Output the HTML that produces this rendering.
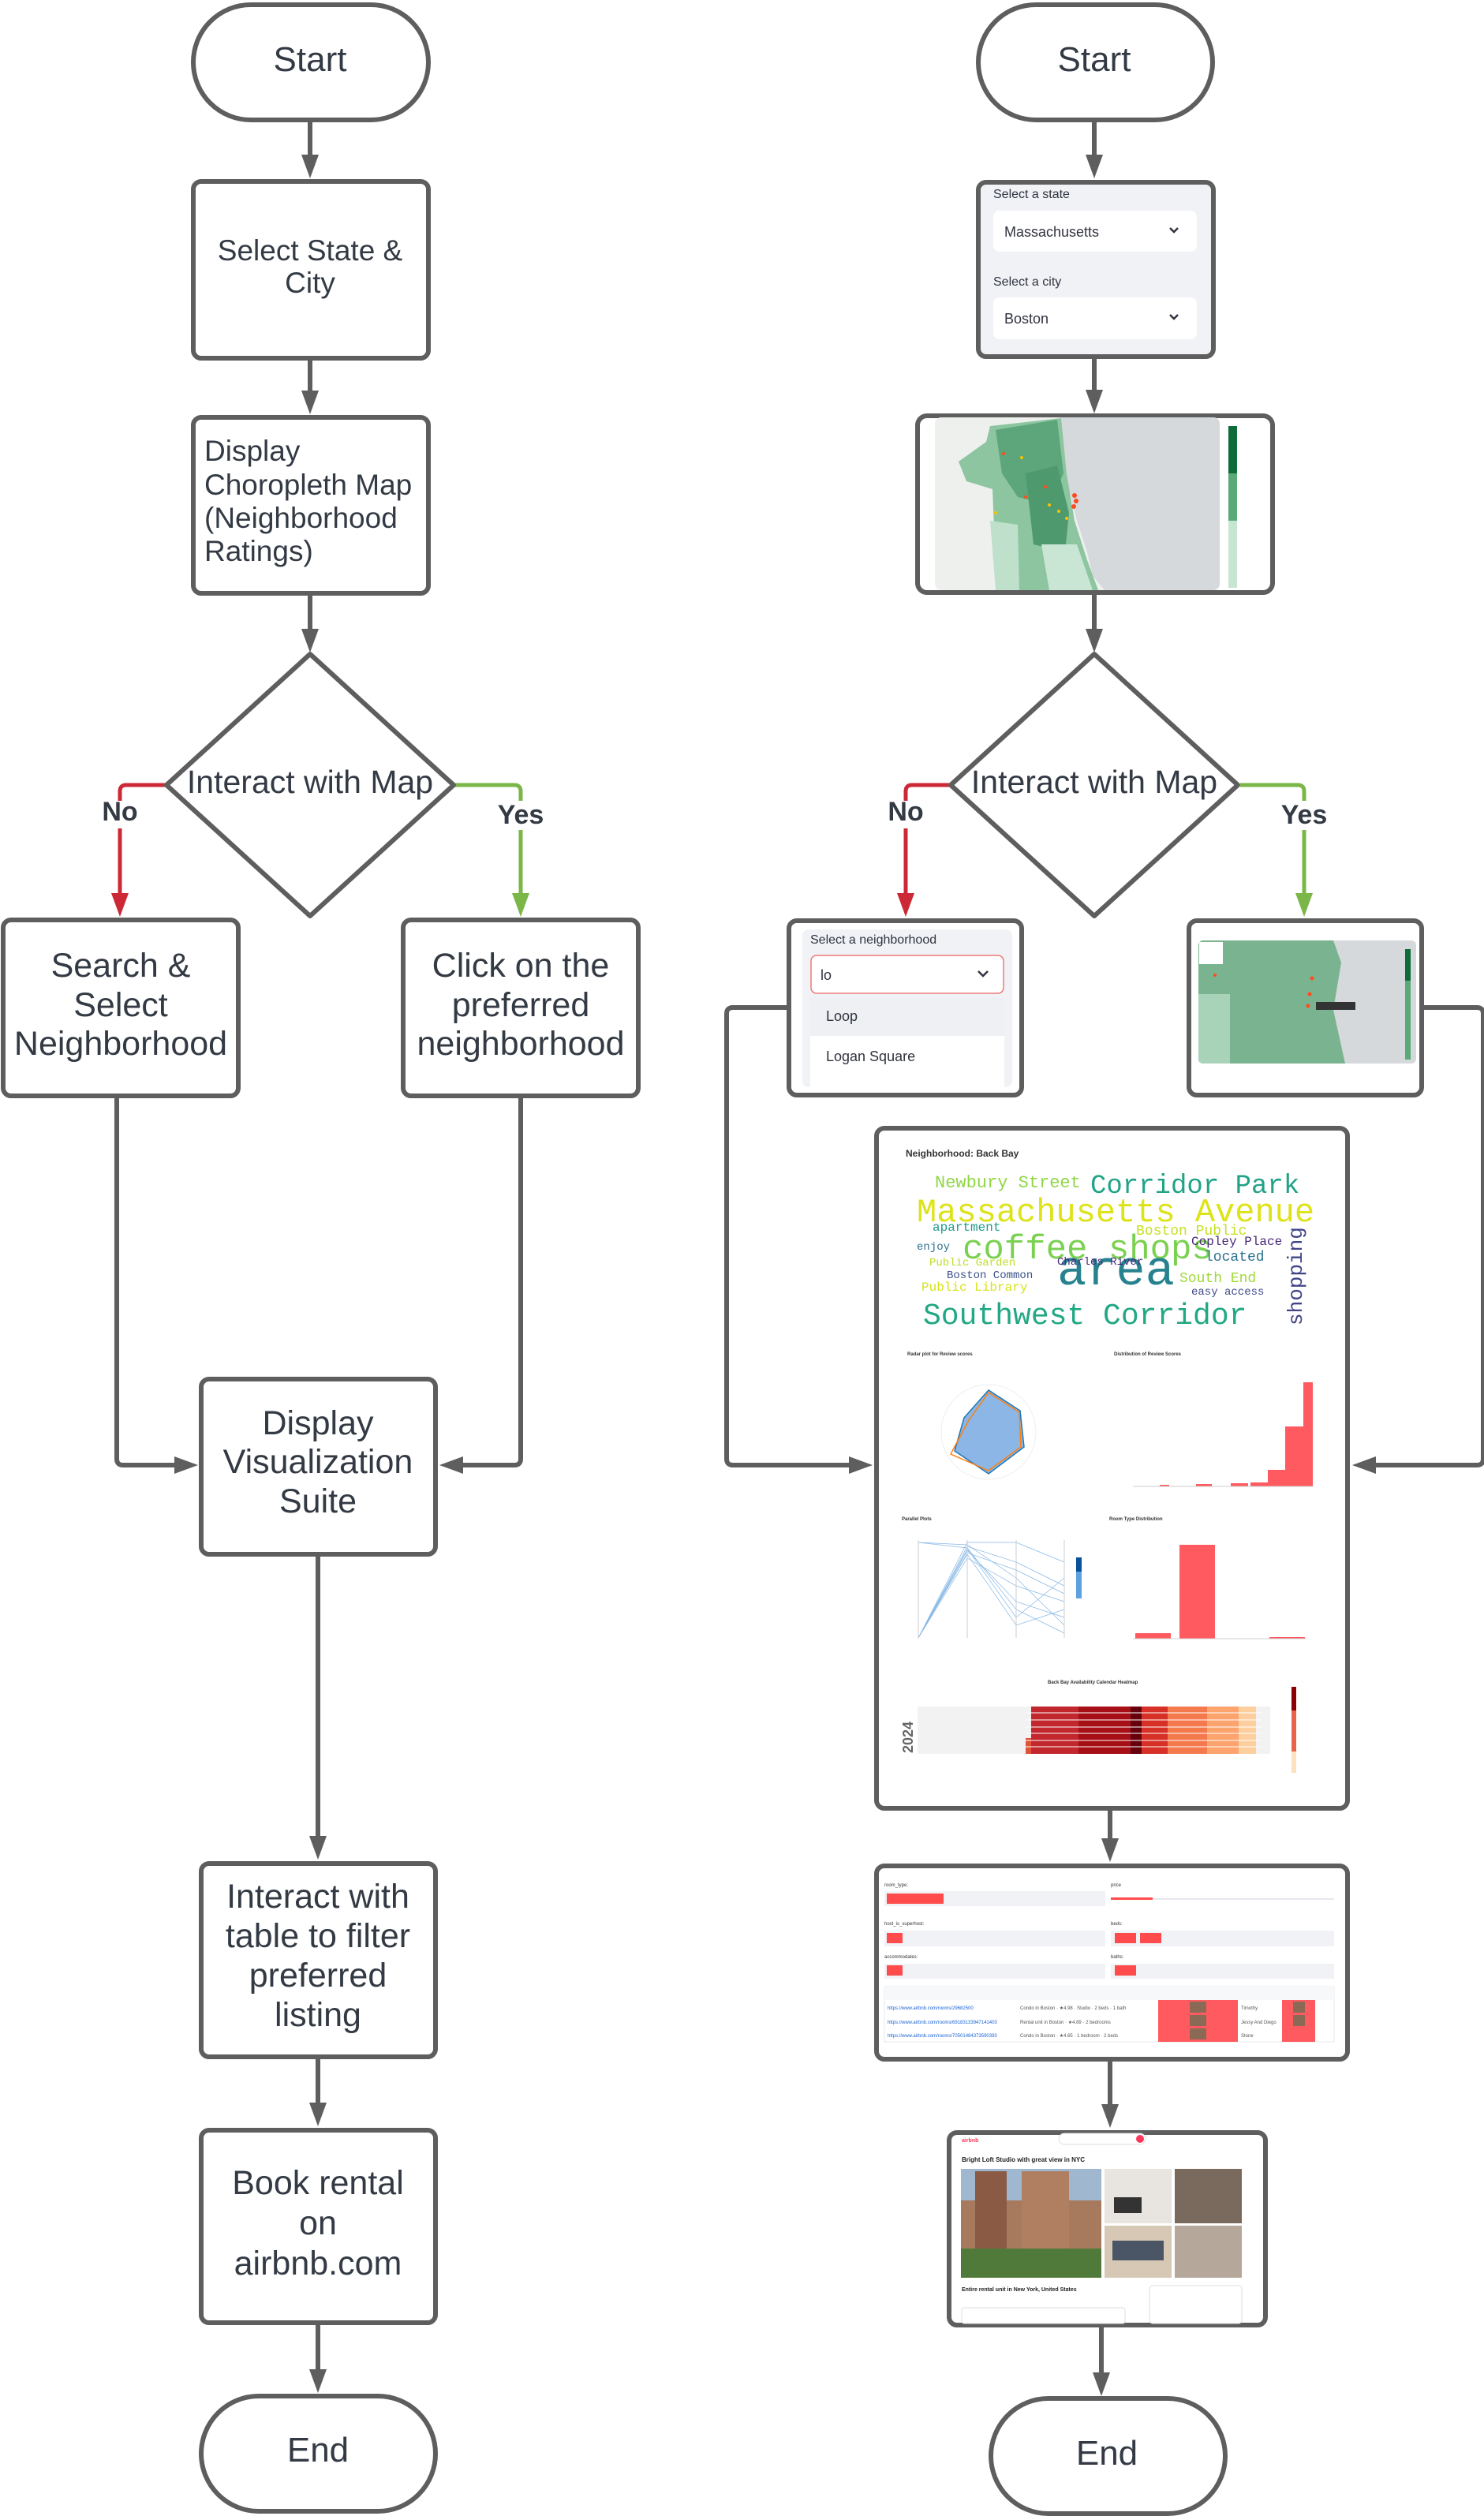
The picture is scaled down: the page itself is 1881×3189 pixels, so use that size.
<!DOCTYPE html>
<html><head><meta charset="utf-8"><style>
html,body{margin:0;padding:0;background:#fff}
svg{display:block}
.t{font-family:"Liberation Sans",Arial,sans-serif;fill:#333a44}
.s{font-family:"Liberation Sans",Arial,sans-serif}
.m{font-family:"Liberation Mono",monospace}
</style></head><body>
<svg width="1881" height="3189" viewBox="0 0 1881 3189" xmlns="http://www.w3.org/2000/svg">
<defs>
<clipPath id="mapc"><rect x="1185" y="529" width="361" height="219" rx="8"/></clipPath>
<clipPath id="map2c"><rect x="1519" y="1192" width="276" height="156" rx="6"/></clipPath>
</defs>
<g fill="none" stroke="#5e5e5e" stroke-width="6">
<line x1="393" y1="155" x2="393" y2="200"/>
<line x1="393" y1="454" x2="393" y2="500"/>
<line x1="393" y1="753" x2="393" y2="800"/>
<path d="M148 1390 V1849 Q148 1857 156 1857 H225"/>
<path d="M660 1390 V1849 Q660 1857 652 1857 H582"/>
<line x1="403" y1="1971" x2="403" y2="2330"/>
<line x1="403" y1="2609" x2="403" y2="2668"/>
<line x1="403" y1="2945" x2="403" y2="3006"/>
<line x1="1387" y1="155" x2="1387" y2="200"/>
<line x1="1387" y1="455" x2="1387" y2="498"/>
<line x1="1387" y1="753" x2="1387" y2="800"/>
<path d="M997 1277 H929 Q921 1277 921 1285 V1849 Q921 1857 929 1857 H1080"/>
<path d="M1805 1277 H1872 Q1880 1277 1880 1285 V1849 Q1880 1857 1872 1857 H1740"/>
<line x1="1407" y1="2295" x2="1407" y2="2333"/>
<line x1="1407" y1="2613" x2="1407" y2="2670"/>
<line x1="1396" y1="2950" x2="1396" y2="3010"/>
</g>
<g fill="none" stroke-width="5">
<path d="M212 995 H160 Q152 995 152 1003 V1015" stroke="#cc2836"/>
<line x1="152" y1="1050" x2="152" y2="1135" stroke="#cc2836"/>
<path d="M576 995 H652 Q660 995 660 1003 V1015" stroke="#7ab648"/>
<line x1="660" y1="1052" x2="660" y2="1135" stroke="#7ab648"/>
<path d="M1204 995 H1156 Q1148 995 1148 1003 V1015" stroke="#cc2836"/>
<line x1="1148" y1="1050" x2="1148" y2="1135" stroke="#cc2836"/>
<path d="M1572 995 H1645 Q1653 995 1653 1003 V1015" stroke="#7ab648"/>
<line x1="1653" y1="1052" x2="1653" y2="1135" stroke="#7ab648"/>
</g>
<g fill="#5e5e5e">
<polygon points="382,196 404,196 393,226"/>
<polygon points="382,495 404,495 393,525"/>
<polygon points="382,797 404,797 393,827"/>
<polygon points="221,1846 221,1868 251,1857"/>
<polygon points="587,1846 587,1868 557,1857"/>
<polygon points="392,2327 414,2327 403,2357"/>
<polygon points="392,2665 414,2665 403,2695"/>
<polygon points="392,3003 414,3003 403,3033"/>
<polygon points="1376,196 1398,196 1387,226"/>
<polygon points="1376,494 1398,494 1387,524"/>
<polygon points="1376,797 1398,797 1387,827"/>
<polygon points="1076,1846 1076,1868 1106,1857"/>
<polygon points="1744,1846 1744,1868 1714,1857"/>
<polygon points="1396,2330 1418,2330 1407,2360"/>
<polygon points="1396,2667 1418,2667 1407,2697"/>
<polygon points="1385,3007 1407,3007 1396,3037"/>
</g>
<polygon points="141,1132 163,1132 152,1162" fill="#cc2836"/>
<polygon points="649,1132 671,1132 660,1162" fill="#7ab648"/>
<polygon points="1137,1132 1159,1132 1148,1162" fill="#cc2836"/>
<polygon points="1642,1132 1664,1132 1653,1162" fill="#7ab648"/>

<g fill="#fff" stroke="#5e5e5e" stroke-width="6">
<rect x="245" y="6" width="298" height="146" rx="73"/>
<rect x="245" y="230" width="298" height="224" rx="10"/>
<rect x="245" y="529" width="298" height="223" rx="10"/>
<polygon points="211,995 393,829 575,995 393,1161" stroke-linejoin="round"/>
<rect x="4" y="1166" width="298" height="223" rx="10"/>
<rect x="511" y="1166" width="298" height="223" rx="10"/>
<rect x="255" y="1748" width="297" height="222" rx="10"/>
<rect x="255" y="2362" width="297" height="245" rx="10"/>
<rect x="255" y="2700" width="297" height="244" rx="10"/>
<rect x="255" y="3037" width="297" height="146" rx="73"/>
<rect x="1240" y="6" width="297" height="146" rx="73"/>
<polygon points="1205,995 1387,829 1569,995 1387,1161" stroke-linejoin="round"/>
<rect x="1256" y="3040" width="297" height="146" rx="73"/>
</g>
<g class="t" text-anchor="middle">
<text x="393" y="90" font-size="44">Start</text>
<text x="393" y="330" font-size="37">Select State &amp;</text>
<text x="393" y="371" font-size="37">City</text>
<text x="393" y="1005" font-size="41">Interact with Map</text>
<text x="153" y="1238" font-size="43">Search &amp;</text>
<text x="153" y="1288" font-size="43">Select</text>
<text x="153" y="1337" font-size="43">Neighborhood</text>
<text x="660" y="1238" font-size="43">Click on the</text>
<text x="660" y="1288" font-size="43">preferred</text>
<text x="660" y="1337" font-size="43">neighborhood</text>
<text x="403" y="1818" font-size="43">Display</text>
<text x="403" y="1867" font-size="43">Visualization</text>
<text x="403" y="1917" font-size="43">Suite</text>
<text x="403" y="2418" font-size="43">Interact with</text>
<text x="403" y="2468" font-size="43">table to filter</text>
<text x="403" y="2518" font-size="43">preferred</text>
<text x="403" y="2568" font-size="43">listing</text>
<text x="403" y="2781" font-size="43">Book rental</text>
<text x="403" y="2832" font-size="43">on</text>
<text x="403" y="2883" font-size="43">airbnb.com</text>
<text x="403" y="3120" font-size="44">End</text>
<text x="1387" y="90" font-size="44">Start</text>
<text x="1387" y="1005" font-size="41">Interact with Map</text>
<text x="1403" y="3124" font-size="44">End</text>
</g>
<g class="t" font-size="37">
<text x="259" y="584">Display</text>
<text x="259" y="627">Choropleth Map</text>
<text x="259" y="669">(Neighborhood</text>
<text x="259" y="711">Ratings)</text>
</g>
<g class="t" font-weight="bold" font-size="34" text-anchor="middle" fill="#222">
<text x="152" y="1040">No</text>
<text x="660" y="1044">Yes</text>
<text x="1148" y="1040">No</text>
<text x="1653" y="1044">Yes</text>
</g>

<rect x="1240" y="231" width="298" height="221" rx="10" fill="#f0f2f6" stroke="#5e5e5e" stroke-width="6"/>
<g class="s" fill="#31333f">
<text x="1259" y="251" font-size="16">Select a state</text>
<rect x="1259" y="267" width="258" height="52" rx="8" fill="#fff"/>
<text x="1273" y="300" font-size="18">Massachusetts</text>
<text x="1259" y="362" font-size="16">Select a city</text>
<rect x="1259" y="377" width="258" height="53" rx="8" fill="#fff"/>
<text x="1273" y="410" font-size="18">Boston</text>
</g>
<g fill="none" stroke="#31333f" stroke-width="2.5"><path d="M1483 289 l5 5 5-5"/><path d="M1483 399 l5 5 5-5"/></g>

<rect x="1163" y="527" width="450" height="224" rx="12" fill="#fff" stroke="#5e5e5e" stroke-width="6"/>
<g clip-path="url(#mapc)">
<rect x="1185" y="529" width="361" height="219" fill="#eef0ee"/>
<path d="M1344 529 H1546 V748 H1400 L1385 730 L1378 700 L1365 660 L1355 620 L1350 580 Z" fill="#d5d9dc"/>
<path d="M1255 540 L1345 530 L1352 600 L1362 660 L1378 710 L1392 748 L1290 748 L1285 690 L1260 670 L1258 620 L1225 610 L1215 585 L1250 560 Z" fill="#8dc5a0"/>
<path d="M1262 545 L1340 532 L1348 600 L1330 640 L1290 630 L1270 600 Z" fill="#5da57a"/>
<path d="M1300 600 L1340 590 L1355 650 L1350 700 L1310 690 Z" fill="#4e9a6e"/>
<path d="M1255 660 L1290 665 L1292 748 L1262 748 Z" fill="#bfe0cb"/>
<path d="M1320 690 L1365 690 L1385 748 L1330 748 Z" fill="#c9e6d4"/>
<g fill="#ff4b1f"><circle cx="1362" cy="628" r="3"/><circle cx="1364" cy="635" r="3"/><circle cx="1361" cy="642" r="3"/><circle cx="1325" cy="617" r="2"/><circle cx="1300" cy="630" r="2"/><circle cx="1272" cy="575" r="2"/></g>
<g fill="#f5c400"><circle cx="1342" cy="648" r="2"/><circle cx="1330" cy="640" r="2"/><circle cx="1352" cy="657" r="2"/><circle cx="1262" cy="650" r="2"/><circle cx="1295" cy="580" r="2"/></g>
</g>
<rect x="1557" y="540" width="11" height="205" fill="#5aa977"/>
<rect x="1557" y="540" width="11" height="60" fill="#0f6b39"/>
<rect x="1557" y="660" width="11" height="85" fill="#c6e6d2"/>

<rect x="1000" y="1167" width="295" height="221" rx="10" fill="#fff" stroke="#5e5e5e" stroke-width="6"/>
<rect x="1017" y="1178" width="266" height="200" rx="8" fill="#f0f2f6"/>
<g class="s" fill="#31333f">
<text x="1027" y="1196" font-size="16">Select a neighborhood</text>
<rect x="1028" y="1211" width="244" height="48" rx="7" fill="#fff" stroke="#f07a7a" stroke-width="1.5"/>
<text x="1040" y="1242" font-size="18">lo</text>
<rect x="1027" y="1265" width="246" height="48" fill="#eef0f4"/>
<rect x="1027" y="1313" width="246" height="65" fill="#fff"/>
<text x="1047" y="1294" font-size="18">Loop</text>
<text x="1047" y="1345" font-size="18">Logan Square</text>
</g>
<path d="M1240 1231 l6 6 6-6" fill="none" stroke="#31333f" stroke-width="2.5"/>

<rect x="1507" y="1167" width="295" height="221" rx="10" fill="#fff" stroke="#5e5e5e" stroke-width="6"/>
<g clip-path="url(#map2c)">
<rect x="1519" y="1192" width="276" height="156" fill="#d5d9dc"/>
<path d="M1519 1192 H1690 L1700 1220 L1690 1280 L1705 1348 H1519 Z" fill="#7ab38f"/>
<rect x="1519" y="1260" width="40" height="88" fill="#a9d3b8"/>
<rect x="1520" y="1194" width="30" height="28" fill="#fff"/>
<g fill="#ff4b1f"><circle cx="1663" cy="1240" r="2.5"/><circle cx="1660" cy="1260" r="2.5"/><circle cx="1658" cy="1275" r="2.5"/><circle cx="1540" cy="1236" r="2"/></g>
<rect x="1668" y="1270" width="50" height="10" fill="#333"/>
</g>
<rect x="1781" y="1203" width="7" height="140" fill="#5aa977"/>
<rect x="1781" y="1203" width="7" height="40" fill="#0f6b39"/>

<rect x="1111" y="1430" width="597" height="862" rx="10" fill="#fff" stroke="#5e5e5e" stroke-width="6"/>
<text class="s" x="1148" y="1466" font-size="12" font-weight="bold" fill="#333">Neighborhood: Back Bay</text>
<g class="m">
<text x="1185" y="1505" font-size="22" fill="#8fd744">Newbury Street</text>
<text x="1382" y="1512" font-size="34" fill="#20a386">Corridor Park</text>
<text x="1162" y="1548" font-size="42" fill="#dde318">Massachusetts Avenue</text>
<text x="1182" y="1560" font-size="16" fill="#1f9a8a">apartment</text>
<text x="1440" y="1565" font-size="18" fill="#c8e020">Boston Public</text>
<text x="1220" y="1595" font-size="44" fill="#7ad151">coffee shops</text>
<text x="1162" y="1584" font-size="14" fill="#2d708e">enjoy</text>
<text x="1510" y="1578" font-size="16" fill="#482878">Copley Place</text>
<text x="1527" y="1598" font-size="18" fill="#2c728e">located</text>
<text x="1340" y="1628" font-size="62" fill="#26828e">area</text>
<text x="1178" y="1604" font-size="14" fill="#bddf26">Public Garden</text>
<text x="1200" y="1620" font-size="14" fill="#3b528b">Boston Common</text>
<text x="1168" y="1636" font-size="16" fill="#d8e219">Public Library</text>
<text x="1495" y="1625" font-size="18" fill="#a0da39">South End</text>
<text x="1510" y="1641" font-size="14" fill="#3e4989">easy access</text>
<text x="1170" y="1678" font-size="38" fill="#22a884">Southwest Corridor</text>
<text x="1340" y="1603" font-size="14" fill="#482878">Charles River</text>
</g>
<text x="1650" y="1680" font-size="26" class="m" fill="#414487" transform="rotate(-90 1650 1680)">shopping</text>
<g class="s" font-size="6" font-weight="bold" fill="#333"><text x="1150" y="1718">Radar plot for Review scores</text><text x="1412" y="1718">Distribution of Review Scores</text><text x="1143" y="1927">Parallel Plots</text><text x="1406" y="1927">Room Type Distribution</text><text x="1328" y="2134">Back Bay Availability Calendar Heatmap</text></g>
<circle cx="1253" cy="1815" r="60" fill="none" stroke="#eee"/>
<polygon points="1253,1762 1293,1788 1298,1834 1253,1868 1210,1839 1222,1797" fill="#8bb6e6" stroke="#1f77b4" stroke-width="1.5"/>
<polygon points="1253,1765 1292,1790 1294,1834 1253,1864 1205,1843 1228,1800" fill="none" stroke="#ff7f0e" stroke-width="1.5"/>
<g fill="#ff5a5f"><rect x="1470" y="1882" width="12" height="2"/><rect x="1516" y="1881" width="20" height="3"/><rect x="1560" y="1880" width="22" height="4"/><rect x="1585" y="1879" width="22" height="5"/><rect x="1607" y="1863" width="22" height="21"/><rect x="1629" y="1808" width="23" height="76"/><rect x="1652" y="1752" width="12" height="132"/></g>
<line x1="1436" y1="1884" x2="1665" y2="1884" stroke="#ccc"/>
<g stroke="#6aa6e0" stroke-width="0.7" fill="none" opacity="0.8">
<path d="M1164 2076 L1226 1955 L1288 1955 L1349 1980"/><path d="M1164 2076 L1226 1960 L1288 1980 L1349 2010"/><path d="M1164 2076 L1226 1965 L1288 2030 L1349 2050"/><path d="M1164 2076 L1226 1970 L1288 2060 L1349 2040"/><path d="M1164 1955 L1226 1958 L1288 2000 L1349 2060"/><path d="M1164 1955 L1226 1962 L1288 2040 L1349 2070"/><path d="M1164 2076 L1226 1975 L1288 2010 L1349 2030"/><path d="M1164 2076 L1226 1968 L1288 1990 L1349 2020"/><path d="M1164 2076 L1226 1963 L1288 2050 L1349 2000"/>
</g>
<g stroke="#ccc"><line x1="1164" y1="1952" x2="1164" y2="2076"/><line x1="1226" y1="1952" x2="1226" y2="2076"/><line x1="1288" y1="1952" x2="1288" y2="2076"/><line x1="1349" y1="1952" x2="1349" y2="2076"/></g>
<rect x="1364" y="1974" width="7" height="52" fill="#5ea1e0"/><rect x="1364" y="1974" width="7" height="18" fill="#08519c"/>
<g fill="#ff5a5f"><rect x="1439" y="2070" width="45" height="7"/><rect x="1495" y="1958" width="45" height="119"/><rect x="1609" y="2075" width="45" height="2"/></g>
<line x1="1436" y1="2077" x2="1656" y2="2077" stroke="#ccc"/>
<rect x="1163" y="2163" width="447" height="60" fill="#f2f2f2"/>
<rect x="1307" y="2163" width="60" height="60" fill="#c1272d"/>
<rect x="1300" y="2203" width="7" height="20" fill="#e0523a"/>
<rect x="1367" y="2163" width="80" height="60" fill="#a50f15"/>
<rect x="1440" y="2163" width="40" height="60" fill="#d73027"/>
<rect x="1480" y="2163" width="50" height="60" fill="#f47a4d"/>
<rect x="1530" y="2163" width="40" height="60" fill="#fca36e"/>
<rect x="1570" y="2163" width="22" height="60" fill="#fdcf9e"/>
<rect x="1433" y="2163" width="14" height="60" fill="#67000d"/>
<g stroke="#fff" stroke-width="1"><path d="M1300 2171 H1600 M1300 2180 H1600 M1300 2189 H1600 M1300 2197 H1600 M1300 2206 H1600 M1300 2214 H1600"/></g>
<rect x="1637" y="2138" width="6" height="109" fill="#e9634a"/><rect x="1637" y="2138" width="6" height="30" fill="#8b0000"/><rect x="1637" y="2220" width="6" height="27" fill="#fde2c0"/>
<text x="1157" y="2222" font-size="18" font-weight="bold" class="s" fill="#666" transform="rotate(-90 1157 2222)">2024</text>

<rect x="1111" y="2365" width="597" height="245" rx="10" fill="#fff" stroke="#5e5e5e" stroke-width="6"/>
<g class="s" font-size="6" fill="#333"><text x="1121" y="2391">room_type:</text><text x="1408" y="2391">price</text><text x="1121" y="2440">host_is_superhost:</text><text x="1408" y="2440">beds:</text><text x="1121" y="2482">accommodates:</text><text x="1408" y="2482">baths:</text></g>
<g fill="#f0f2f6"><rect x="1121" y="2397" width="280" height="19"/><rect x="1121" y="2447" width="280" height="20"/><rect x="1121" y="2489" width="280" height="19"/><rect x="1408" y="2447" width="283" height="20"/><rect x="1408" y="2489" width="283" height="19"/></g>
<g fill="#ff4b4b"><rect x="1124" y="2400" width="72" height="13"/><rect x="1124" y="2450" width="20" height="13"/><rect x="1124" y="2491" width="20" height="13"/><rect x="1413" y="2450" width="27" height="13"/><rect x="1445" y="2450" width="27" height="13"/><rect x="1413" y="2491" width="27" height="13"/><rect x="1408" y="2405" width="53" height="3"/></g>
<line x1="1461" y1="2407" x2="1691" y2="2407" stroke="#e6e8ee" stroke-width="2"/>
<rect x="1121" y="2518" width="570" height="70" fill="#fff" stroke="#e6e8ee"/>
<rect x="1121" y="2518" width="570" height="17" fill="#f7f8fa"/>
<g fill="#ff5a5f"><rect x="1468" y="2535" width="101" height="53"/><rect x="1625" y="2535" width="42" height="53"/></g>
<g fill="#8a6a55"><rect x="1508" y="2537" width="21" height="14"/><rect x="1508" y="2554" width="21" height="14"/><rect x="1508" y="2571" width="21" height="14"/><rect x="1639" y="2537" width="15" height="14"/><rect x="1639" y="2554" width="15" height="14"/></g>
<g class="s" font-size="6"><text x="1125" y="2547" fill="#1a62d8">https://www.airbnb.com/rooms/29682500</text><text x="1125" y="2565" fill="#1a62d8">https://www.airbnb.com/rooms/69183133947141403</text><text x="1125" y="2582" fill="#1a62d8">https://www.airbnb.com/rooms/70501484373590393</text><text x="1293" y="2547" fill="#555">Condo in Boston · ★4.98 · Studio · 2 beds · 1 bath</text><text x="1293" y="2565" fill="#555">Rental unit in Boston · ★4.89 · 2 bedrooms</text><text x="1293" y="2582" fill="#555">Condo in Boston · ★4.65 · 1 bedroom · 2 beds</text><text x="1573" y="2547" fill="#555">Timothy</text><text x="1573" y="2565" fill="#555">Jessy And Diego</text><text x="1573" y="2582" fill="#555">Stone</text></g>

<rect x="1203" y="2703" width="401" height="244" rx="10" fill="#fff" stroke="#5e5e5e" stroke-width="6"/>
<text class="s" x="1219" y="2715" font-size="7" font-weight="bold" fill="#ff385c">airbnb</text>
<rect x="1342" y="2704" width="110" height="14" rx="7" fill="#fff" stroke="#ddd"/>
<circle cx="1445" cy="2711" r="5" fill="#ff385c"/>
<text class="s" x="1219" y="2740" font-size="8" font-weight="bold" fill="#222">Bright Loft Studio with great view in NYC</text>
<rect x="1218" y="2749" width="178" height="138" fill="#a77a5e"/>
<rect x="1218" y="2749" width="178" height="40" fill="#9fb7cf"/>
<rect x="1236" y="2752" width="40" height="100" fill="#8a5a44"/>
<rect x="1295" y="2752" width="60" height="110" fill="#b07e60"/>
<rect x="1218" y="2850" width="178" height="37" fill="#4f7a3a"/>
<rect x="1400" y="2749" width="85" height="69" fill="#e8e4df"/>
<rect x="1412" y="2785" width="35" height="20" fill="#333"/>
<rect x="1489" y="2749" width="85" height="69" fill="#7a6a5e"/>
<rect x="1400" y="2821" width="85" height="66" fill="#d7c8b5"/>
<rect x="1410" y="2840" width="65" height="25" fill="#4a5565"/>
<rect x="1489" y="2821" width="85" height="66" fill="#b5a89a"/>
<text class="s" x="1219" y="2904" font-size="7" font-weight="bold" fill="#222">Entire rental unit in New York, United States</text>
<rect x="1457" y="2897" width="117" height="48" rx="4" fill="#fff" stroke="#ddd"/>
<rect x="1219" y="2925" width="207" height="20" rx="3" fill="#fff" stroke="#ddd"/>
</svg>
</body></html>
